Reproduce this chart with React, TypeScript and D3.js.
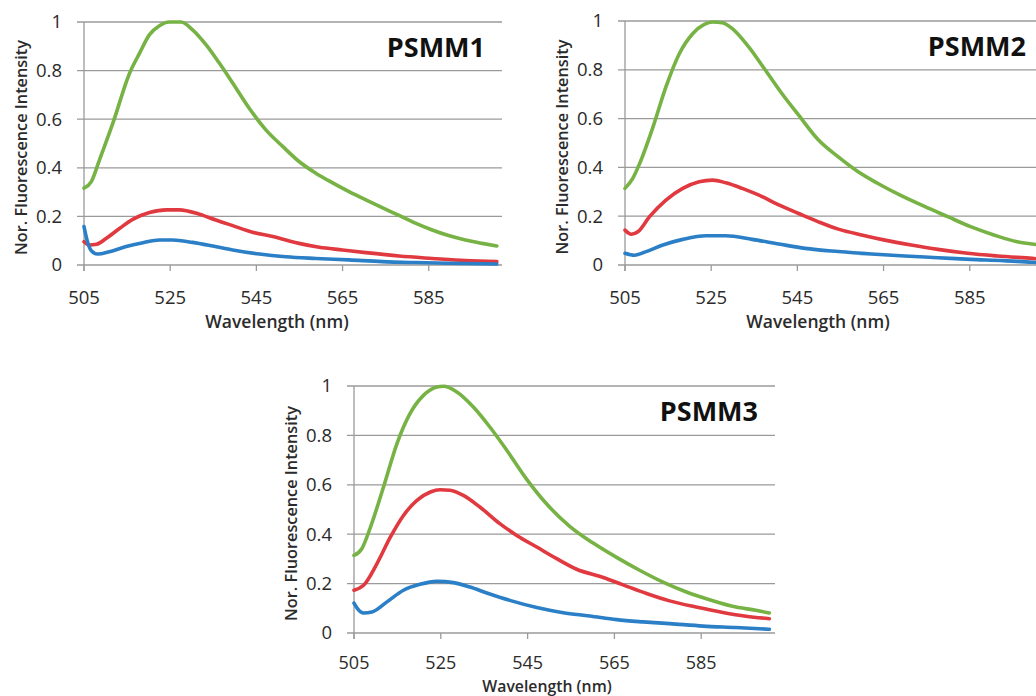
import React from "react";
import * as d3 from "d3";

// ---------- data (wavelength in nm, normalized intensity) ----------
const xTicks = [505, 525, 545, 565, 585];
const yTicks = [0, 0.2, 0.4, 0.6, 0.8, 1];
const yTickLabels = ["0", "0.2", "0.4", "0.6", "0.8", "1"];
const panelNames = ["PSMM1", "PSMM2", "PSMM3"];
const seriesColors = ["#77b244", "#e0393f", "#2a7fc6"]; // green, red, blue

// PSMM1
const p1GreenNm = [505, 506.7, 508.6, 511.7, 515.6, 517.9, 520.2, 522.5, 524.8, 527.5, 530.2, 533.3, 536.4, 539.5, 543.3, 547.2, 551.1, 554.9, 558.8, 562.6, 566.5, 570.4, 574.2, 578.1, 581.9, 585.8, 589.6, 593.5, 597.4, 600.8];
const p1Green = [0.316, 0.343, 0.433, 0.584, 0.79, 0.872, 0.948, 0.985, 1.0, 1.0, 0.968, 0.907, 0.831, 0.749, 0.646, 0.556, 0.488, 0.426, 0.378, 0.339, 0.302, 0.268, 0.236, 0.204, 0.172, 0.144, 0.121, 0.103, 0.089, 0.078];
const p1RedNm = [505, 506.3, 507.9, 510.2, 513.3, 516.3, 520.2, 524.1, 527.1, 531.8, 535.6, 539.5, 544.1, 548.8, 554.9, 559.6, 565, 570.4, 578.1, 585.8, 593.5, 600.8];
const p1Red = [0.096, 0.082, 0.085, 0.11, 0.151, 0.188, 0.216, 0.227, 0.227, 0.209, 0.185, 0.162, 0.135, 0.117, 0.089, 0.073, 0.062, 0.051, 0.037, 0.027, 0.018, 0.014];
const p1BlueNm = [505, 505.7, 506.7, 508.2, 510.9, 514.8, 518.7, 522.5, 525.6, 530.2, 534.9, 539.5, 545.7, 551.8, 558.8, 566.5, 574.2, 581.9, 589.6, 600.8];
const p1Blue = [0.158, 0.103, 0.059, 0.045, 0.055, 0.076, 0.092, 0.103, 0.103, 0.093, 0.078, 0.062, 0.045, 0.034, 0.027, 0.021, 0.014, 0.01, 0.007, 0.004];

// PSMM2
const p2GreenNm = [505, 506.8, 508.4, 511.5, 514.5, 517.6, 520.7, 523.4, 525.3, 527.6, 529.9, 533.7, 537.6, 541.4, 545.3, 549.9, 554.5, 559.1, 563.7, 569.1, 574.5, 579.9, 585.2, 590.6, 596, 599.5, 601];
const p2Green = [0.314, 0.355, 0.416, 0.566, 0.73, 0.866, 0.948, 0.986, 0.996, 0.993, 0.969, 0.894, 0.798, 0.703, 0.614, 0.512, 0.443, 0.382, 0.334, 0.284, 0.24, 0.198, 0.157, 0.123, 0.095, 0.086, 0.083];
const p2RedNm = [505, 506.5, 508, 510.7, 514.5, 518.4, 522.2, 525.3, 528.4, 532.2, 536.1, 540.7, 545.3, 549.9, 554.5, 559.9, 565.3, 571.4, 577.6, 584.5, 591.4, 599.5, 601];
const p2Red = [0.143, 0.126, 0.136, 0.198, 0.266, 0.314, 0.341, 0.348, 0.337, 0.314, 0.286, 0.246, 0.211, 0.177, 0.147, 0.123, 0.102, 0.082, 0.064, 0.048, 0.037, 0.027, 0.025];
const p2BlueNm = [505, 507.2, 509.9, 513.8, 518.4, 523.8, 528.4, 534.5, 540.7, 546.8, 554.5, 562.2, 569.9, 577.6, 585.2, 592.9, 599.5, 601];
const p2Blue = [0.048, 0.04, 0.055, 0.082, 0.105, 0.12, 0.12, 0.105, 0.086, 0.068, 0.055, 0.045, 0.037, 0.03, 0.023, 0.018, 0.011, 0.01];

// PSMM3
const p3GreenNm = [505, 506.8, 508.8, 511.8, 514.9, 517.9, 521, 524.1, 525.6, 528.7, 532.5, 536.3, 540.2, 544.8, 549.4, 554.7, 560.1, 565.5, 570.8, 576.2, 581.6, 586.9, 593, 597.6, 600.7];
const p3Green = [0.314, 0.341, 0.429, 0.591, 0.767, 0.888, 0.962, 0.996, 0.999, 0.976, 0.915, 0.834, 0.74, 0.622, 0.522, 0.432, 0.364, 0.306, 0.254, 0.206, 0.166, 0.135, 0.105, 0.092, 0.081];
const p3RedNm = [505, 507.2, 510.3, 513.4, 516.4, 519.5, 522.6, 524.8, 527.1, 530.2, 534, 538.6, 542.5, 547.1, 551.7, 556.3, 562.4, 567, 572.4, 577.7, 583.8, 590, 595.3, 600.7];
const p3Red = [0.173, 0.193, 0.281, 0.389, 0.476, 0.537, 0.571, 0.58, 0.578, 0.557, 0.51, 0.443, 0.395, 0.348, 0.301, 0.258, 0.225, 0.195, 0.16, 0.13, 0.105, 0.083, 0.068, 0.058];
const p3BlueNm = [505, 505.8, 507.2, 509.1, 512.6, 516.4, 520.2, 524.1, 527.9, 531.7, 535.6, 540.9, 547.1, 553.2, 559.3, 565.5, 571.6, 577.7, 585.4, 593, 600.7];
const p3Blue = [0.121, 0.099, 0.081, 0.085, 0.126, 0.173, 0.197, 0.209, 0.204, 0.186, 0.162, 0.132, 0.103, 0.082, 0.069, 0.054, 0.045, 0.038, 0.028, 0.022, 0.015];

const panelSeries = [
  [[p1GreenNm, p1Green], [p1RedNm, p1Red], [p1BlueNm, p1Blue]],
  [[p2GreenNm, p2Green], [p2RedNm, p2Red], [p2BlueNm, p2Blue]],
  [[p3GreenNm, p3Green], [p3RedNm, p3Red], [p3BlueNm, p3Blue]],
];

// ---------- layout ----------
const W = 1036;
const H = 696;
const panelBoxes = [
  { left: 84, top: 22, bottom: 265, right: 502, tickDy: 33, tickSize: 18.5, titleDy: 57, titleSize: 17.5 },
  { left: 625, top: 21, bottom: 265, right: 1043, tickDy: 33, tickSize: 18.5, titleDy: 57, titleSize: 17.5 },
  { left: 354, top: 386, bottom: 633, right: 775, tickDy: 30, tickSize: 18, titleDy: 53, titleSize: 15.8 },
];
const xDomain: [number, number] = [505, 602];
const gridColor = "#9a9a9a";
const textColor = "#2b2b2b";
const font = "'Open Sans', 'DejaVu Sans', sans-serif";

function Panel({ idx }: { idx: number }) {
  const b = panelBoxes[idx];
  const x = d3.scaleLinear().domain(xDomain).range([b.left, b.right]);
  const y = d3.scaleLinear().domain([0, 1]).range([b.bottom, b.top]);
  const line = d3
    .line<[number, number]>()
    .x((d) => x(d[0]))
    .y((d) => y(d[1]))
    .curve(d3.curveMonotoneX);
  const series = panelSeries[idx];
  return (
    <g>
      {yTicks.map((t, i) => (
        <g key={"y" + i}>
          <line x1={b.left - 7} x2={b.right} y1={y(t)} y2={y(t)} stroke={gridColor} strokeWidth={1.3} />
          <text x={b.left - 22} y={y(t)} dy="0.35em" textAnchor="end" fontSize={18.5} fill={textColor} fontFamily={font}>
            {yTickLabels[i]}
          </text>
        </g>
      ))}
      <line x1={b.left} x2={b.left} y1={b.top} y2={b.bottom + 6} stroke={gridColor} strokeWidth={1.3} />
      {xTicks.map((t, i) => (
        <g key={"x" + i}>
          <line x1={x(t)} x2={x(t)} y1={b.bottom} y2={b.bottom + 6} stroke={gridColor} strokeWidth={1.3} />
          <text x={x(t)} y={b.bottom + b.tickDy} dy="0.35em" textAnchor="middle" fontSize={b.tickSize} fill={textColor} fontFamily={font}>
            {t}
          </text>
        </g>
      ))}
      {series.map((s, si) => {
        const pts = s[0].map((nm, k) => [nm, s[1][k]] as [number, number]);
        return (
          <path key={"s" + si} d={line(pts) || ""} fill="none" stroke={seriesColors[si]} strokeWidth={3.6} strokeLinejoin="round" strokeLinecap="round" />
        );
      })}
      <text x={b.right - 17} y={b.top + 35} textAnchor="end" fontSize={27} fontWeight={700} fill="#111" fontFamily={font}>
        {panelNames[idx]}
      </text>
      <text x={b.left + 193} y={b.bottom + b.titleDy} dy="0.35em" textAnchor="middle" fontSize={b.titleSize} fontWeight={600} fill={textColor} fontFamily={font}>
        Wavelength (nm)
      </text>
      <text
        transform={`translate(${b.left - 63},${(b.top + b.bottom) / 2 + 4}) rotate(-90)`}
        dy="0.35em"
        textAnchor="middle"
        fontSize={16.3}
        fontWeight={600}
        fill={textColor}
        fontFamily={font}
      >
        Nor. Fluorescence Intensity
      </text>
    </g>
  );
}

export default function App() {
  return (
    <svg width={W} height={H} style={{ position: "absolute", left: 0, top: 0, background: "#fff" }}>
      <rect width={W} height={H} fill="#fff" />
      {panelBoxes.map((_, i) => (
        <Panel key={i} idx={i} />
      ))}
    </svg>
  );
}
